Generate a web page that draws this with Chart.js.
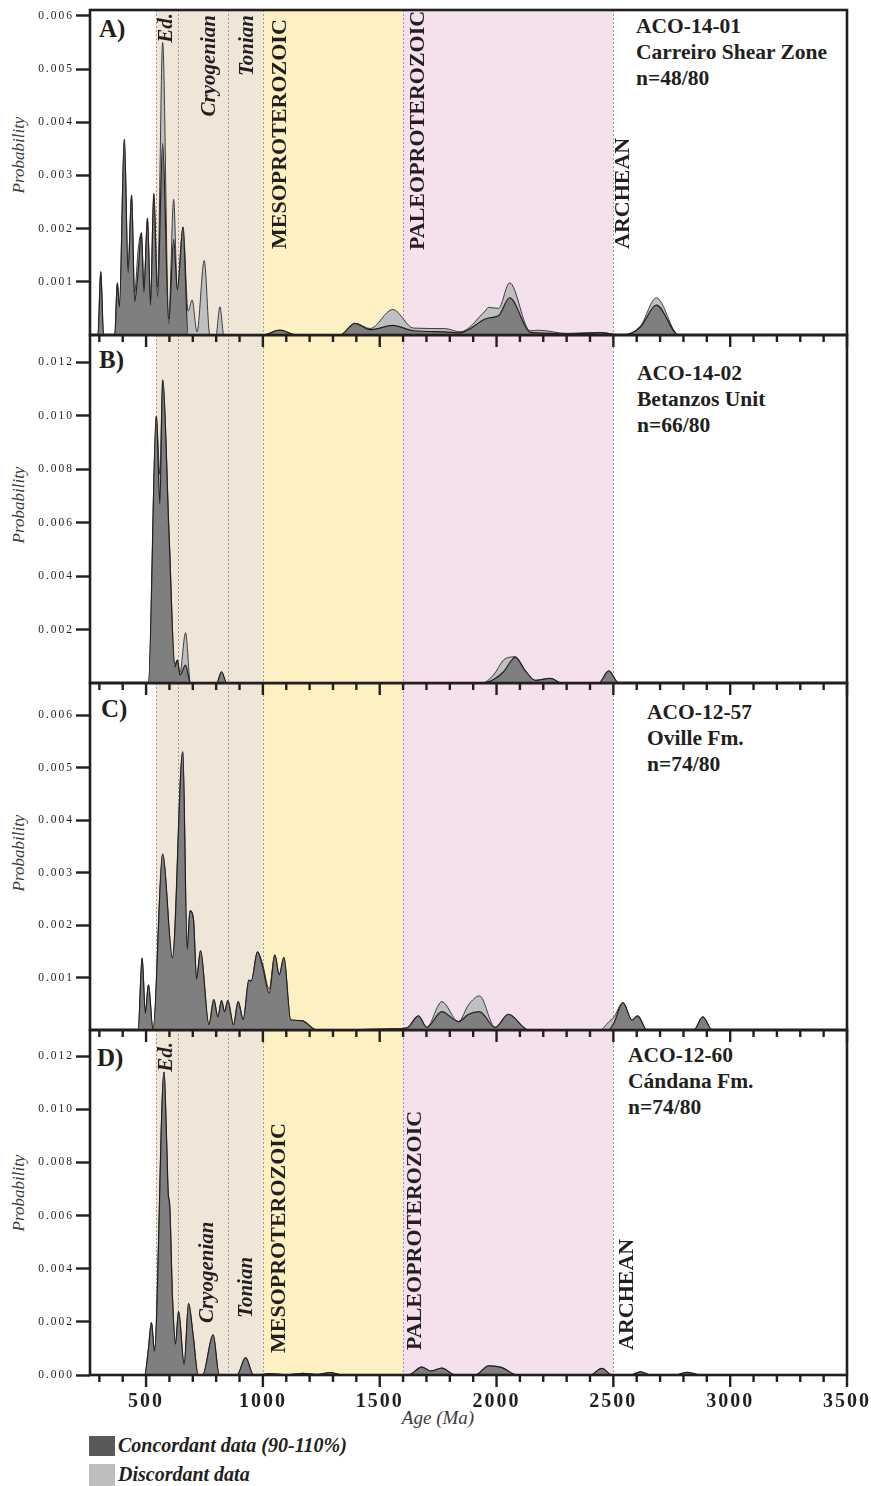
<!DOCTYPE html>
<html lang="en">
<head>
<meta charset="utf-8">
<title>Detrital zircon age probability plots</title>
<script src="https://cdn.jsdelivr.net/npm/chart.js@4.4.1/dist/chart.umd.min.js"></script>
<style>
  html, body { margin: 0; padding: 0; background: #fff; }
  #figure {
    position: relative; width: 871px; height: 1486px; overflow: hidden; color: #231f20;
    font-family: "Liberation Serif", "Times New Roman", serif;
  }
  #figure canvas { position: absolute; left: 0; }
  .txt { position: absolute; line-height: 1; white-space: nowrap; }
  .sample { font-weight: bold; font-size: 21.5px; }
  .letter { font-weight: bold; font-size: 25px; }
  .ylab { font-style: italic; font-size: 17px; color: #3c3c3c; transform: translate(-50%, -50%) rotate(-90deg); }
  .xlab { font-style: italic; font-size: 19px; color: #3c3c3c; transform: translateX(-50%); }
  .legend { font-style: italic; font-weight: bold; font-size: 20px; }
  .swatch { position: absolute; left: 89px; width: 26px; }
</style>
</head>
<body>
<div id="figure"></div>
<script>
const xMin = 260;
const xMax = 3500;
const xTickLabels = [500, 1000, 1500, 2000, 2500, 3000, 3500];

// time scale boundaries (Ma): Ediacaran, Cryogenian, Tonian, Meso-, Paleoproterozoic, Archean
const eraBounds = [541, 635, 850, 1000, 1600, 2500];

// A) ACO-14-01
const aAge = [260, 294, 306, 318, 366, 377, 386, 407, 423, 438, 451, 466, 480, 491, 506, 519, 533, 549, 571, 597,
  618, 634, 658, 680, 697, 718, 749, 773, 799, 816, 833, 1000, 1073, 1144, 1330, 1394, 1459, 1556, 1644, 1780,
  1844, 1951, 1966, 2008, 2056, 2144, 2180, 2300, 2444, 2530, 2544, 2616, 2684, 2780, 3500];
const aConc = [0, 0, 0.00119, 0, 0, 0.00098, 0.00053, 0.00368, 0.00117, 0.00263, 0.00063, 0.0012, 0.00192, 0.00081,
  0.0022, 0.00056, 0.00266, 0.00072, 0.0036, 0.00022, 0.0018, 0.00085, 0.00203, 0, 0, 0, 0, 0, 0, 0, 0, 0, 0.00009,
  0, 0, 0.00022, 0.0001, 0.00018, 0.00008, 0.00006, 0.00004, 0.0003, 0.00032, 0.00036, 0.0007, 0.00005, 0.00004,
  0.00002, 0.00004, 0, 0, 0.00015, 0.00056, 0, 0];
const aDisc = [0, 0, 0.00119, 0, 0, 0.00098, 0.00053, 0.00368, 0.00125, 0.00263, 0.0008, 0.0016, 0.00192, 0.0009,
  0.0022, 0.00065, 0.00266, 0.0009, 0.0055, 0.0003, 0.00255, 0.00085, 0.00203, 0.00045, 0.00066, 0.00006, 0.0014,
  0, 0, 0.00053, 0, 0, 0.00009, 0, 0, 0.00022, 0.00012, 0.00048, 0.00013, 0.00012, 0.00006, 0.00045, 0.00052,
  0.0005, 0.00098, 0.00008, 0.00009, 0.00003, 0.00005, 0, 0, 0.00017, 0.0007, 0, 0];

// B) ACO-14-02
const bAge = [260, 510, 544, 559, 571, 599, 623, 634, 645, 669, 690, 802, 823, 845, 1937, 1987, 2030, 2060, 2080,
  2120, 2166, 2230, 2280, 2437, 2480, 2523, 3500];
const bConc = [0, 0, 0.00998, 0.0067, 0.01133, 0.00535, 0.0006, 0.00086, 0.0003, 0.00067, 0, 0, 0.00042, 0, 0,
  0.00013, 0.00042, 0.0008, 0.00097, 0.0005, 0.0001, 0.00017, 0, 0, 0.00045, 0, 0];
const bDisc = [0, 0, 0.00998, 0.0078, 0.01133, 0.0055, 0.0007, 0.00086, 0.0004, 0.00188, 0, 0, 0.00042, 0, 0,
  0.0003, 0.00086, 0.00097, 0.00098, 0.0005, 0.0001, 0.00017, 0, 0, 0.00045, 0, 0];

// C) ACO-12-57
const cAge = [260, 466, 483, 497, 510, 530, 571, 613, 657, 676, 688, 703, 716, 733, 769, 790, 807, 823, 836, 850,
  874, 894, 916, 940, 950, 977, 999, 1027, 1051, 1070, 1090, 1119, 1166, 1230, 1550, 1616, 1666, 1701, 1766, 1837,
  1880, 1927, 1994, 2051, 2137, 2444, 2479, 2501, 2541, 2580, 2604, 2644, 2844, 2883, 2923, 3500];
const cConc = [0, 0, 0.00137, 0.00032, 0.00086, 0, 0.00335, 0.00137, 0.0053, 0.00154, 0.00227, 0.0021, 0.00097,
  0.00151, 0.0001, 0.00058, 0.00025, 0.00056, 0.00035, 0.00056, 0.0001, 0.00054, 0.0002, 0.00095, 0.00093, 0.00149,
  0.0012, 0.0007, 0.00143, 0.00105, 0.00138, 0.00019, 0.00018, 0, 0.00002, 0.00004, 0.00027, 0.00005, 0.00035,
  0.00016, 0.0003, 0.00035, 0.00005, 0.0003, 0, 0, 0, 0.00012, 0.00052, 0.00019, 0.00027, 0, 0, 0.00025, 0, 0];
const cDisc = [0, 0, 0.00137, 0.00032, 0.00086, 0, 0.00335, 0.00137, 0.0053, 0.00154, 0.00227, 0.0021, 0.00097,
  0.00151, 0.0001, 0.00058, 0.00025, 0.00056, 0.00035, 0.00056, 0.0001, 0.00054, 0.0002, 0.00095, 0.00093, 0.00149,
  0.00125, 0.00078, 0.00143, 0.00105, 0.00138, 0.00019, 0.00018, 0, 0.00002, 0.00004, 0.00027, 0.00005, 0.00054,
  0.00016, 0.00048, 0.00065, 0.00005, 0.0003, 0, 0, 0.00015, 0.00024, 0.00052, 0.00019, 0.00027, 0, 0, 0.00025, 0, 0];

// D) ACO-12-60
const dAge = [260, 494, 509, 523, 536, 577, 588, 595, 601, 613, 626, 639, 663, 682, 701, 723, 742, 787, 813, 889,
  926, 960, 1000, 1023, 1100, 1173, 1230, 1287, 1343, 1623, 1680, 1719, 1766, 1823, 1909, 1966, 2023, 2087, 2401,
  2451, 2494, 2573, 2616, 2659, 2766, 2816, 2873, 3500];
const dConc = [0, 0, 0.0009, 0.00197, 0.0009, 0.0114, 0.0088, 0.0068, 0.0064, 0.00292, 0.00116, 0.00239, 0.0004,
  0.00269, 0.00153, 0, 0, 0.00151, 0, 0, 0.00065, 0, 0.00002, 0.00005, 0.00001, 0.00006, 0.00002, 0.00009, 0, 0,
  0.0003, 0.00015, 0.00026, 0, 0, 0.00034, 0.00028, 0, 0, 0.00025, 0, 0, 0.00012, 0, 0, 0.0001, 0, 0];
const dDisc = dConc.slice(); // no discordant excess visible in this sample

const aYTicks = [0.001, 0.002, 0.003, 0.004, 0.005, 0.006];
const bYTicks = [0.002, 0.004, 0.006, 0.008, 0.010, 0.012];
const cYTicks = [0.001, 0.002, 0.003, 0.004, 0.005, 0.006];
const dYTicks = [0, 0.002, 0.004, 0.006, 0.008, 0.010, 0.012];

const ink = '#231f20';
const serif = '"Liberation Serif", "Times New Roman", serif';

const bands = [
  { from: 541, to: 1000, color: '#efe6d8' },
  { from: 1000, to: 1600, color: '#fdf0c2' },
  { from: 1600, to: 2500, color: '#f5e1ee' }
];

const panels = [
  {
    ages: aAge, conc: aConc, disc: aDisc, yMax: 0.00611, yTicks: aYTicks, top: 10, bottom: 335,
    letter: 'A)', letterAt: [99, 37], info: ['ACO-14-01', 'Carreiro Shear Zone', 'n=48/80'], infoAt: [636, 34], yLabelAt: 155,
    eras: [
      { text: 'Ed.', age: 589, top: 3, italic: true },
      { text: 'Cryogenian', age: 773, top: 5, italic: true },
      { text: 'Tonian', age: 936, top: 5, italic: true },
      { text: 'MESOPROTEROZOIC', age: 1073, bottom: 86 },
      { text: 'PALEOPROTEROZOIC', age: 1664, bottom: 85 },
      { text: 'ARCHEAN', age: 2543, bottom: 86 }
    ]
  },
  {
    ages: bAge, conc: bConc, disc: bDisc, yMax: 0.01301, yTicks: bYTicks, top: 335, bottom: 683,
    letter: 'B)', letterAt: [99, 368], info: ['ACO-14-02', 'Betanzos Unit', 'n=66/80'], infoAt: [637, 381], yLabelAt: 505,
    eras: []
  },
  {
    ages: cAge, conc: cConc, disc: cDisc, yMax: 0.00661, yTicks: cYTicks, top: 683, bottom: 1030,
    letter: 'C)', letterAt: [101, 717], info: ['ACO-12-57', 'Oville Fm.', 'n=74/80'], infoAt: [647, 720], yLabelAt: 853,
    eras: []
  },
  {
    ages: dAge, conc: dConc, disc: dDisc, yMax: 0.01298, yTicks: dYTicks, top: 1030, bottom: 1375,
    letter: 'D)', letterAt: [97, 1066], info: ['ACO-12-60', 'Cándana Fm.', 'n=74/80'], infoAt: [628, 1063], yLabelAt: 1193,
    eras: [
      { text: 'Ed.', age: 589, top: 12, italic: true },
      { text: 'Cryogenian', age: 764, bottom: 52, italic: true },
      { text: 'Tonian', age: 931, bottom: 57, italic: true },
      { text: 'MESOPROTEROZOIC', age: 1069, bottom: 22 },
      { text: 'PALEOPROTEROZOIC', age: 1651, bottom: 25 },
      { text: 'ARCHEAN', age: 2560, bottom: 25 }
    ]
  }
];

const fig = document.getElementById('figure');

function addText(cls, text, left, baseline, size) {
  const el = document.createElement('div');
  el.className = 'txt ' + cls;
  el.textContent = text;
  el.style.left = left + 'px';
  el.style.top = (baseline - 0.8375 * size) + 'px';
  fig.appendChild(el);
  return el;
}

function panelPlugin(p) {
  return {
    id: 'panelDecor',
    beforeDraw(chart) {
      chart.ctx.letterSpacing = '2px';
    },
    beforeDatasetsDraw(chart) {
      const { ctx, chartArea: a, scales: { x } } = chart;
      ctx.save();
      bands.forEach(b => {
        const x0 = x.getPixelForValue(b.from);
        const x1 = x.getPixelForValue(b.to);
        ctx.fillStyle = b.color;
        ctx.fillRect(x0, a.top, x1 - x0, a.bottom - a.top);
      });
      ctx.strokeStyle = '#9b9b9b';
      ctx.lineWidth = 1;
      ctx.setLineDash([2, 2]);
      eraBounds.forEach(v => {
        const px = Math.round(x.getPixelForValue(v)) + 0.5;
        ctx.beginPath();
        ctx.moveTo(px, a.top);
        ctx.lineTo(px, a.bottom);
        ctx.stroke();
      });
      ctx.restore();
    },
    afterDatasetsDraw(chart) {
      const { ctx, chartArea: a, scales: { x } } = chart;
      ctx.save();
      ctx.letterSpacing = '0px';
      ctx.fillStyle = ink;
      ctx.textBaseline = 'middle';
      p.eras.forEach(e => {
        const size = e.italic ? 21 : 22;
        ctx.font = (e.italic ? 'italic ' : '') + 'bold ' + size + 'px ' + serif;
        const px = x.getPixelForValue(e.age);
        const py = e.top !== undefined ? a.top + e.top : a.bottom - e.bottom;
        ctx.save();
        ctx.translate(px, py);
        ctx.rotate(-Math.PI / 2);
        ctx.textAlign = e.top !== undefined ? 'right' : 'left';
        ctx.fillText(e.text, 0, 0);
        ctx.restore();
      });

      // frame
      ctx.strokeStyle = ink;
      ctx.lineWidth = 2.6;
      ctx.strokeRect(a.left, a.top, a.right - a.left, a.bottom - a.top);

      // age tick marks, every 100 Ma, longer at labelled ages
      ctx.lineWidth = 2.4;
      for (let v = 300; v <= xMax; v += 100) {
        const px = x.getPixelForValue(v);
        const len = xTickLabels.includes(v) ? 12 : 7;
        ctx.beginPath();
        ctx.moveTo(px, a.bottom);
        ctx.lineTo(px, a.bottom + len);
        ctx.stroke();
      }
      ctx.restore();
    },
    afterDraw(chart) {
      chart.ctx.letterSpacing = '0px';
    }
  };
}

function makeChart(p, idx) {
  const isLast = idx === panels.length - 1;
  const padTop = 10;
  const padBottom = isLast ? 0 : 16;
  const axisH = isLast ? 48 : 0;
  const canvas = document.createElement('canvas');
  canvas.width = 871;
  canvas.height = padTop + (p.bottom - p.top) + padBottom + axisH;
  canvas.style.top = (p.top - padTop) + 'px';
  canvas.style.zIndex = 10 - idx;
  fig.appendChild(canvas);

  const toPoints = vals => p.ages.map((a, i) => ({ x: a, y: vals[i] }));

  return new Chart(canvas, {
    type: 'line',
    data: {
      datasets: [
        {
          label: 'Concordant data (90-110%)',
          data: toPoints(p.conc),
          backgroundColor: '#7f7f7f',
          borderColor: ink,
          borderWidth: 1.2,
          fill: 'origin',
          pointRadius: 0,
          cubicInterpolationMode: 'monotone'
        },
        {
          label: 'Discordant data',
          data: toPoints(p.disc),
          backgroundColor: '#bfbfbf',
          borderColor: '#3d3d3d',
          borderWidth: 1,
          fill: 'origin',
          pointRadius: 0,
          cubicInterpolationMode: 'monotone'
        }
      ]
    },
    options: {
      responsive: false,
      animation: false,
      devicePixelRatio: 1,
      layout: { padding: { top: padTop, right: 871 - 847, bottom: padBottom, left: 0 } },
      plugins: { legend: { display: false }, tooltip: { enabled: false } },
      scales: {
        x: {
          type: 'linear',
          min: xMin,
          max: xMax,
          bounds: 'data',
          display: isLast,
          grid: { display: false },
          border: { display: false },
          ticks: {
            autoSkip: false,
            maxRotation: 0,
            padding: 7,
            color: ink,
            font: { family: serif, size: 20, weight: 'bold' },
            callback: v => String(v)
          },
          afterBuildTicks: s => { s.ticks = xTickLabels.map(v => ({ value: v })); },
          afterFit: s => {
            s.height = axisH;
            s.paddingLeft = 0;
            s.paddingRight = 0;
          }
        },
        y: {
          min: 0,
          max: p.yMax,
          bounds: 'data',
          grid: { drawOnChartArea: false, drawTicks: true, tickLength: 14, tickWidth: 2.4, tickColor: ink },
          border: { display: false },
          ticks: {
            padding: 2,
            color: ink,
            font: { family: serif, size: 11.5 },
            callback: v => Number(v).toFixed(3)
          },
          afterBuildTicks: s => { s.ticks = p.yTicks.map(v => ({ value: v })); },
          afterFit: s => {
            s.width = 90;
            s.paddingTop = 0;
            s.paddingBottom = 0;
          }
        }
      }
    },
    plugins: [panelPlugin(p)]
  });
}

panels.forEach((p, i) => {
  makeChart(p, i);
  addText('letter', p.letter, p.letterAt[0], p.letterAt[1], 25);
  p.info.forEach((line, k) => addText('sample', line, p.infoAt[0], p.infoAt[1] + k * 26, 21.5));
  const yl = document.createElement('div');
  yl.className = 'txt ylab';
  yl.textContent = 'Probability';
  yl.style.left = '18px';
  yl.style.top = p.yLabelAt + 'px';
  fig.appendChild(yl);
});

addText('xlab', 'Age (Ma)', 438, 1424, 19);

// legend
const sw1 = document.createElement('div');
sw1.className = 'swatch';
sw1.style.cssText += 'top:1436px;height:20px;background:#58595b;';
fig.appendChild(sw1);
const sw2 = document.createElement('div');
sw2.className = 'swatch';
sw2.style.cssText += 'top:1464px;height:22px;background:#bcbec0;';
fig.appendChild(sw2);
addText('legend', 'Concordant data (90-110%)', 118, 1452, 20);
addText('legend', 'Discordant data', 118, 1481, 20);
</script>
</body>
</html>
